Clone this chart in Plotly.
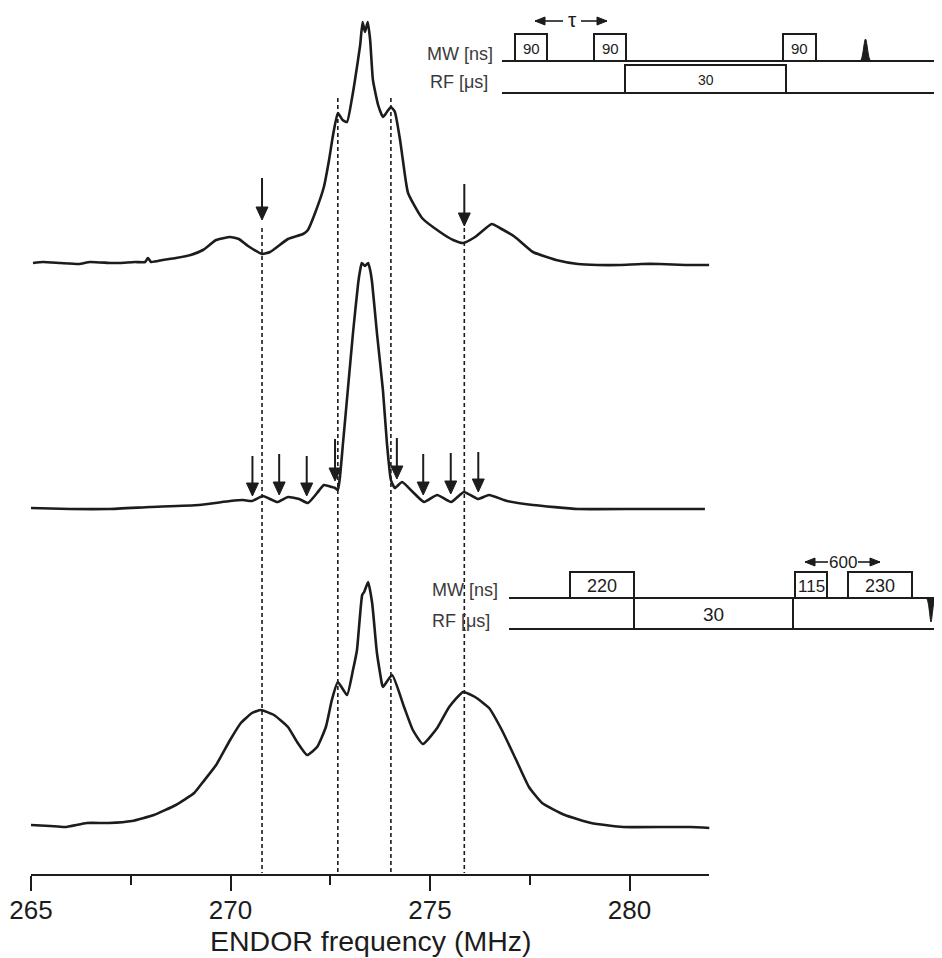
import plotly.graph_objects as go

# window is 942 x 958; the page body adds an 8 px margin, so the figure is 8 px smaller
WIN_W, WIN_H = 942, 958
OFF = 8
W, H = WIN_W - OFF, WIN_H - OFF

# ---------------- data ----------------
# ENDOR frequency (MHz) and signal height (a.u., above each trace's own baseline)
freq_top = [265.05, 265.30, 265.73, 266.20, 266.48, 267.00, 267.23, 267.60, 267.86, 267.93,
            268.01, 268.30, 268.63, 269.00, 269.31, 269.64, 269.99, 270.21, 270.44, 270.79,
            270.99, 271.44, 271.82, 271.94, 272.12, 272.34, 272.47, 272.57, 272.69, 272.81,
            272.92, 273.05, 273.12, 273.25, 273.31, 273.37, 273.44, 273.50, 273.57, 273.70,
            273.82, 273.92, 274.02, 274.12, 274.25, 274.32, 274.45, 274.80, 275.25, 275.58,
            275.83, 276.13, 276.55, 276.75, 277.13, 277.58, 278.16, 278.71, 279.20, 279.76,
            280.30, 280.76, 281.40, 282.00]
int_top = [2, 3, 2, 1, 3, 2, 2, 3, 3, 7,
           3, 5, 7, 10, 15, 25, 28, 26, 19, 11,
           13, 26, 31, 35, 52, 78, 105, 130, 152, 145,
           143, 168, 185, 220, 243, 233, 243, 225, 185, 160,
           148, 153, 158, 153, 125, 105, 72, 47, 33, 25,
           22, 28, 41, 37, 28, 13, 5, 1, 0, 0,
           1, 1, 0, 0]

freq_mid = [265.00, 265.98, 266.95, 267.98, 269.21, 269.99, 270.31, 270.54, 270.81, 271.17,
            271.44, 271.72, 271.94, 272.17, 272.34, 272.54, 272.62, 272.69, 272.74, 272.82,
            272.94, 273.07, 273.20, 273.25, 273.29, 273.37, 273.45, 273.50, 273.55, 273.67,
            273.82, 273.92, 274.02, 274.12, 274.30, 274.57, 274.85, 275.18, 275.53, 275.85,
            276.20, 276.48, 276.93, 277.58, 278.71, 280.26, 281.89]
int_mid = [0, -1, -1, 1, 3, 7, 8, 7, 12, 6,
           11, 9, 5, 15, 23, 21, 20, 18, 30, 65,
           118, 175, 225, 238, 245, 242, 245, 238, 225, 175,
           118, 65, 28, 20, 26, 16, 6, 13, 6, 16,
           9, 13, 7, 3, -1, -1, -1]

freq_bot = [265.00, 265.48, 265.85, 266.40, 266.95, 267.53, 268.08, 268.63, 269.09, 269.31,
            269.64, 269.99, 270.26, 270.54, 270.76, 271.09, 271.44, 271.67, 271.92, 272.17,
            272.39, 272.54, 272.69, 272.92, 273.07, 273.17, 273.30, 273.35, 273.45, 273.55,
            273.67, 273.80, 273.82, 274.05, 274.35, 274.57, 274.82, 275.18, 275.48, 275.83,
            276.13, 276.48, 276.80, 277.16, 277.48, 277.81, 278.38, 279.04, 279.84, 280.94,
            281.52, 282.02]
int_bot = [1, 0, -1, 3, 3, 5, 11, 21, 33, 44,
           61, 86, 103, 113, 116, 111, 99, 84, 71, 79,
           99, 126, 144, 131, 156, 176, 231, 234, 244, 223,
           173, 141, 139, 151, 119, 96, 82, 98, 119, 134,
           129, 118, 96, 66, 39, 23, 11, 3, -1, -1,
           -1, -2]

dashed_freqs = [270.79, 272.69, 274.02, 275.86]
top_arrow_freqs = [270.79, 275.86]
mid_arrow_freqs = [270.55, 271.22, 271.91, 272.62, 274.17, 274.83, 275.52, 276.21]

major_ticks = [265, 270, 275, 280]
minor_ticks = [267.5, 272.5, 277.5]
x_title = "ENDOR frequency (MHz)"

# ---------------- layout constants (window pixels from top-left) ----------------
BASE_TOP, BASE_MID, BASE_BOT = 265, 508, 826
AXIS_Y = 875
AX_X0, AX_X1 = 31, 709.3
FONT = "Liberation Sans, Arial, Helvetica, sans-serif"
INK = "#1c1c1c"
TXT = "#3a3a3a"

fig = go.Figure()

for fr, it, base in [(freq_top, int_top, BASE_TOP), (freq_mid, int_mid, BASE_MID),
                     (freq_bot, int_bot, BASE_BOT)]:
    fig.add_trace(go.Scatter(x=fr, y=[base - v for v in it], mode="lines",
                             line=dict(color=INK, width=2.6, shape="spline", smoothing=0.45),
                             xaxis="x2", yaxis="y", hoverinfo="skip"))

# invisible trace so the pixel axis exists
fig.add_trace(go.Scatter(x=[OFF + 1], y=[OFF + 1], mode="markers", marker=dict(opacity=0),
                         xaxis="x", yaxis="y", hoverinfo="skip"))

shapes = []
annos = []

# dashed guide lines
for i, f in enumerate(dashed_freqs):
    y0 = 228 if i in (0, 3) else 98
    shapes.append(dict(type="line", xref="x2", yref="y", x0=f, x1=f, y0=y0, y1=AXIS_Y - 2,
                       line=dict(color=INK, width=1.6, dash="4px,3px"), layer="below"))

HW = 0.15  # arrow head half width (MHz)


def down_arrow(f, ytop, ytip, head=13):
    shapes.append(dict(type="line", xref="x2", yref="y", x0=f, x1=f, y0=ytop, y1=ytip - head + 2,
                       line=dict(color=INK, width=2)))
    shapes.append(dict(type="path", xref="x2", yref="y",
                       path=f"M {f-HW},{ytip-head} L {f+HW},{ytip-head} L {f},{ytip} Z",
                       fillcolor=INK, line=dict(color=INK, width=1)))


down_arrow(top_arrow_freqs[0], 178, 220)
down_arrow(top_arrow_freqs[1], 184, 226)
mid_tops = [456, 454, 456, 439, 438, 454, 453, 452]
mid_tips = [496, 495, 496, 481, 479, 495, 494, 492]
for f, t0, t1 in zip(mid_arrow_freqs, mid_tops, mid_tips):
    down_arrow(f, t0, t1)


# ---------------- pulse sequences (pixel axis) ----------------
def pline(x0, x1, y):
    shapes.append(dict(type="line", xref="x", yref="y", x0=x0, x1=x1, y0=y, y1=y,
                       line=dict(color=INK, width=2)))


def pbox(x0, x1, y0, y1, label, size):
    shapes.append(dict(type="rect", xref="x", yref="y", x0=x0, x1=x1, y0=y0, y1=y1,
                       line=dict(color=INK, width=2), fillcolor="white"))
    annos.append(dict(x=(x0 + x1) / 2, y=(y0 + y1) / 2 + 1, xref="x", yref="y", text=label,
                      showarrow=False, font=dict(size=size, family=FONT, color=INK)))


def label(x, y, text, size, anchor="right"):
    annos.append(dict(x=x, y=y, xref="x", yref="y", text=text, showarrow=False,
                      xanchor=anchor, font=dict(size=size, family=FONT, color=TXT)))


def harrow(x0, x1, y, tip_left):
    shapes.append(dict(type="line", xref="x", yref="y", x0=x0, x1=x1, y0=y, y1=y,
                       line=dict(color=INK, width=1.6)))
    if tip_left:
        p = f"M {x0},{y} L {x0+10},{y-4} L {x0+10},{y+4} Z"
    else:
        p = f"M {x1},{y} L {x1-10},{y-4} L {x1-10},{y+4} Z"
    shapes.append(dict(type="path", xref="x", yref="y", path=p, fillcolor=INK,
                       line=dict(color=INK, width=1)))


# top sequence
pline(502, WIN_W, 61)
pline(502, WIN_W, 93)
pbox(625, 786, 65, 93, "30", 14)
pbox(515, 547, 34, 61, "90", 15)
pbox(594, 626, 34, 61, "90", 15)
pbox(783, 816, 34, 61, "90", 15)
shapes.append(dict(type="path", xref="x", yref="y",
                   path="M 860,61 C 863,61 864,39 865.5,39 C 867,39 868,61 871,61 Z",
                   fillcolor=INK, line=dict(color=INK, width=1)))
label(495, 54, "MW [ns]", 18)
label(490, 82, "RF [μs]", 18)
harrow(535, 563, 21, True)
harrow(581, 607, 21, False)
annos.append(dict(x=572, y=19, xref="x", yref="y", text="τ", showarrow=False,
                  font=dict(size=21, family=FONT, color=INK)))

# bottom sequence
pline(509, WIN_W, 598)
pline(509, WIN_W, 629)
pbox(634, 793, 598, 629, "30", 19)
pbox(570, 634, 572, 598, "220", 18)
pbox(795, 827, 572, 598, "115", 17)
pbox(848, 912, 572, 598, "230", 18)
shapes.append(dict(type="path", xref="x", yref="y",
                   path="M 926,598 C 929,598 930,622 931,622 C 932,622 933,598 936,598 Z",
                   fillcolor=INK, line=dict(color=INK, width=1)))
label(500, 590, "MW [ns]", 18)
label(492, 621, "RF [μs]", 18)
harrow(805, 828, 562, True)
harrow(858, 880, 562, False)
annos.append(dict(x=843, y=562, xref="x", yref="y", text="600", showarrow=False,
                  font=dict(size=17, family=FONT, color=INK)))

# axis title (placed as text under the axis)
annos.append(dict(x=273.5, y=941, xref="x2", yref="y", text=x_title, showarrow=False,
                  xanchor="center", yanchor="middle",
                  font=dict(size=28.5, family=FONT, color=INK)))

fig.update_layout(
    width=W, height=H, autosize=False,
    margin=dict(l=0, r=0, t=0, b=0, autoexpand=False),
    paper_bgcolor="white", plot_bgcolor="white",
    showlegend=False,
    xaxis=dict(domain=[0, 1], range=[OFF, WIN_W], visible=False, anchor="y", automargin=False),
    yaxis=dict(domain=[0, 1], range=[WIN_H, OFF], visible=False, anchor="x", automargin=False),
    xaxis2=dict(domain=[(AX_X0 - OFF) / W, (AX_X1 - OFF) / W], range=[265, 282], anchor="free",
                position=(WIN_H - AXIS_Y) / H, automargin=False,
                showline=True, linewidth=2, linecolor=INK,
                ticks="outside", ticklen=15, tickwidth=2, tickcolor=INK,
                tickvals=major_ticks, ticktext=[str(t) for t in major_ticks],
                ticklabelstandoff=-3,
                tickfont=dict(size=26, family=FONT, color=INK),
                minor=dict(tickvals=minor_ticks, ticks="outside", ticklen=9,
                           tickwidth=2, tickcolor=INK),
                showgrid=False, zeroline=False),
    shapes=shapes,
    annotations=annos,
)

fig.write_html("out.html")
